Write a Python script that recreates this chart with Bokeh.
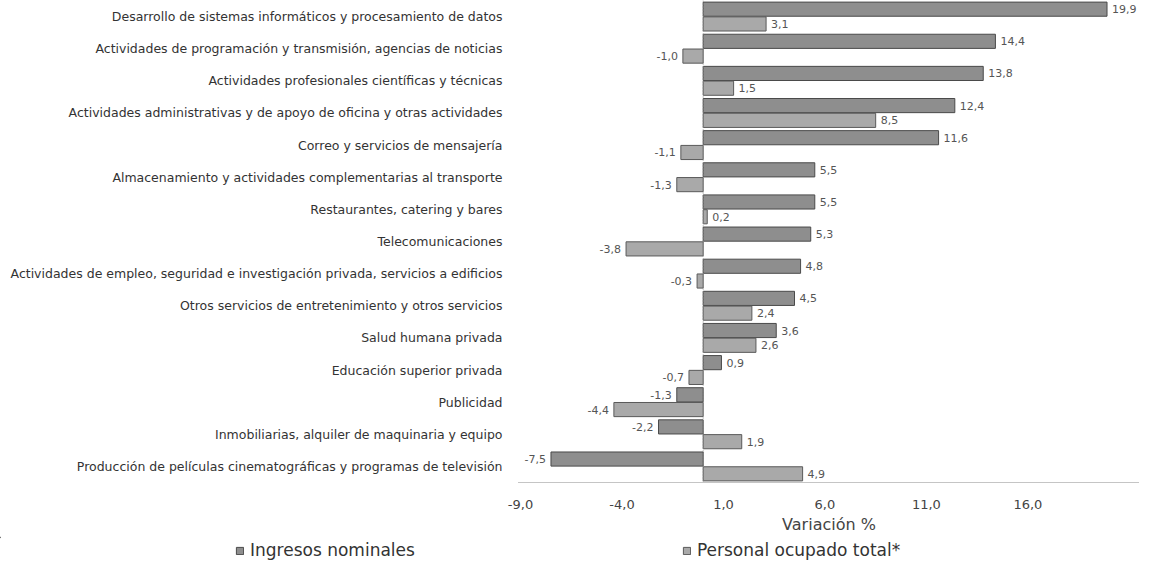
from bokeh.plotting import figure
from bokeh.models import (ColumnDataSource, FactorRange, Range1d, Span, Legend, LegendItem, FixedTicker,
                          CDSView, IndexFilter)
from bokeh.transform import dodge
from bokeh.core.properties import value
from bokeh.embed import file_html
from bokeh.resources import INLINE

categories = [
    "Desarrollo de sistemas informáticos y procesamiento de datos",
    "Actividades de programación y transmisión, agencias de noticias",
    "Actividades profesionales científicas y técnicas",
    "Actividades administrativas y de apoyo de oficina y otras actividades",
    "Correo y servicios de mensajería",
    "Almacenamiento y actividades complementarias al transporte",
    "Restaurantes, catering y bares",
    "Telecomunicaciones",
    "Actividades de empleo, seguridad e investigación privada, servicios a edificios",
    "Otros servicios de entretenimiento y otros servicios",
    "Salud humana privada",
    "Educación superior privada",
    "Publicidad",
    "Inmobiliarias, alquiler de maquinaria y equipo",
    "Producción de películas cinematográficas y programas de televisión",
]
ingresos = [19.9, 14.4, 13.8, 12.4, 11.6, 5.5, 5.5, 5.3, 4.8, 4.5, 3.6, 0.9, -1.3, -2.2, -7.5]
personal = [3.1, -1.0, 1.5, 8.5, -1.1, -1.3, 0.2, -3.8, -0.3, 2.4, 2.6, -0.7, -4.4, 1.9, 4.9]
series_names = ["Ingresos nominales", "Personal ocupado total*"]
x_ticks = [-9, -4, 1, 6, 11, 16]
tick_labels = ["-9,0", "-4,0", "1,0", "6,0", "11,0", "16,0"]
axis_title = "Variación %"

FONT = "DejaVu Sans"
ING_FILL, ING_LINE = "#8e8e8e", "#4a4a4a"
PER_FILL, PER_LINE = "#a9a9a9", "#5a5a5a"


def fmt(v):
    return f"{v:.1f}".replace(".", ",")


src = ColumnDataSource(dict(
    cat=categories,
    ing=ingresos,
    per=personal,
    ing_lbl=[fmt(v) for v in ingresos],
    per_lbl=[fmt(v) for v in personal],
    ing_align=["left" if v >= 0 else "right" for v in ingresos],
    per_align=["left" if v >= 0 else "right" for v in personal],
    ing_off=[5 if v >= 0 else -5 for v in ingresos],
    per_off=[5 if v >= 0 else -5 for v in personal],
))

W = 1139
p = figure(
    y_range=FactorRange(factors=categories[::-1]),
    x_range=(-9.1, 21.5),
    frame_width=621, frame_height=482,
    min_border_left=518, min_border_right=0, min_border_top=0, min_border_bottom=0,
    output_backend="svg", toolbar_location=None,
)

OFF = 0.23
H = 0.44
p.hbar(y=dodge("cat", OFF, range=p.y_range), left=0, right="ing", height=H, source=src,
       fill_color=ING_FILL, line_color=ING_LINE, line_width=1)
p.hbar(y=dodge("cat", -OFF, range=p.y_range), left=0, right="per", height=H, source=src,
       fill_color=PER_FILL, line_color=PER_LINE, line_width=1)

p.text(x="ing", y=dodge("cat", OFF, range=p.y_range), text="ing_lbl", source=src,
       text_align="ing_align", x_offset="ing_off", text_baseline="middle",
       text_font=value(FONT), text_font_size="11px", text_color="#555555")
p.text(x="per", y=dodge("cat", -OFF, range=p.y_range), text="per_lbl", source=src,
       text_align="per_align", x_offset="per_off", text_baseline="middle",
       text_font=value(FONT), text_font_size="11px", text_color="#555555")

p.add_layout(Span(location=0, dimension="height", line_color="#8a8a8a", line_dash="1 2", line_width=1))

p.xgrid.grid_line_color = None
p.ygrid.grid_line_color = None
p.outline_line_color = None

p.yaxis.axis_line_color = None
p.yaxis.major_tick_line_color = None
p.yaxis.minor_tick_line_color = None
p.yaxis.major_label_standoff = 10
p.yaxis.major_label_text_font = FONT
p.yaxis.major_label_text_font_size = "12.5px"
p.yaxis.major_label_text_color = "#333333"

p.xaxis.ticker = FixedTicker(ticks=x_ticks)
p.xaxis.major_label_overrides = dict(zip(x_ticks, tick_labels))
p.xaxis.axis_line_color = "#8a8a8a"
p.xaxis.axis_line_dash = "1 1"
p.xaxis.major_tick_line_color = None
p.xaxis.minor_tick_line_color = None
p.xaxis.major_label_standoff = 11
p.xaxis.major_label_text_font = FONT
p.xaxis.major_label_text_font_size = "13px"
p.xaxis.major_label_text_color = "#444444"
p.xaxis.axis_label = axis_title
p.xaxis.axis_label_standoff = 3
p.xaxis.axis_label_text_font = FONT
p.xaxis.axis_label_text_font_size = "16px"
p.xaxis.axis_label_text_font_style = "normal"
p.xaxis.axis_label_text_color = "#444444"

# Legend strip: same series, one bar each kept outside its visible x-range, so only the legend shows
p2 = figure(
    y_range=FactorRange(factors=categories[::-1]),
    x_range=Range1d(1000, 2000),
    width=W, height=24,
    min_border=0, x_axis_location=None, y_axis_location=None,
    output_backend="svg", toolbar_location=None,
)
p2.grid.visible = False
p2.outline_line_color = None
l_ing = p2.hbar(y="cat", left=0, right="ing", height=H, source=src,
                view=CDSView(filter=IndexFilter(indices=[0])),
                fill_color=ING_FILL, line_color=ING_LINE, line_width=1)
l_per = p2.hbar(y="cat", left=0, right="per", height=H, source=src,
                view=CDSView(filter=IndexFilter(indices=[0])),
                fill_color=PER_FILL, line_color=PER_LINE, line_width=1)

legend = Legend(
    items=[LegendItem(label=series_names[0], renderers=[l_ing]),
           LegendItem(label=series_names[1], renderers=[l_per])],
    orientation="horizontal", location=(235, 0), spacing=267,
    glyph_width=9, glyph_height=9, label_standoff=6,
    label_text_font=FONT, label_text_font_size="17px", label_text_color="#333333",
    border_line_color=None, background_fill_alpha=0, padding=0, margin=0,
)
p2.add_layout(legend, "center")

open("out.html", "w").write(file_html([p, p2], INLINE))
